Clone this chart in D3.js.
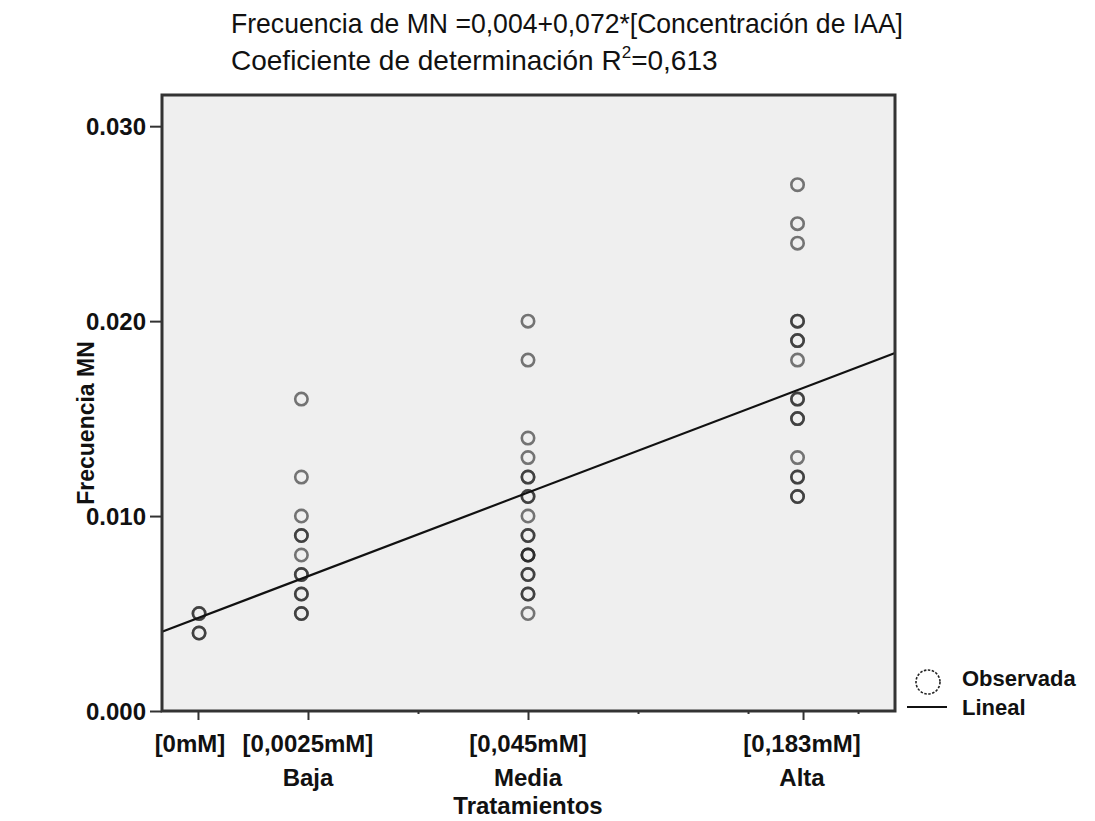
<!DOCTYPE html>
<html>
<head>
<meta charset="utf-8">
<script src="https://cdn.jsdelivr.net/npm/d3@7"></script>
<style>
  body { margin: 0; background: #fff; }
  svg text { font-family: "Liberation Sans", Arial, sans-serif; fill: #111; }
  .axis text { font-weight: bold; font-size: 24px; }
  .axis path { display: none; }
  .axis line { stroke: #333; stroke-width: 2; }
</style>
</head>
<body>
<svg id="chart" width="1095" height="821"></svg>
<script>
// Grupos de tratamiento (posicion en el eje x y etiquetas)
const groupNames = ["[0mM]", "[0,0025mM]", "[0,045mM]", "[0,183mM]"];
const groupLevels = ["", "Baja", "Media", "Alta"];
const groupTicks = [0, 1, 3, 5.5];
const minorTicks = [2, 4, 5, 6];
const groupPointX = [0.01, 0.94, 3.0, 5.45];

// Frecuencia MN observada (valores repetidos = puntos superpuestos)
const obsCero = [0.005, 0.005, 0.004, 0.004];
const obsBaja = [0.016, 0.012, 0.010, 0.009, 0.009, 0.008, 0.007, 0.007,
                 0.006, 0.006, 0.005, 0.005];
const obsMedia = [0.020, 0.018, 0.014, 0.013, 0.012, 0.012, 0.011, 0.011,
                  0.010, 0.009, 0.009, 0.008, 0.008, 0.008, 0.007, 0.007,
                  0.006, 0.006, 0.005];
const obsAlta = [0.027, 0.025, 0.024, 0.020, 0.020, 0.019, 0.019, 0.018,
                 0.016, 0.016, 0.015, 0.015, 0.013, 0.012, 0.012, 0.011, 0.011];

const yTicks = [0, 0.010, 0.020, 0.030];

// Ajuste lineal en unidades del eje x
const lineIntercept = 0.00477;
const lineSlope = 0.002145;

const svg = d3.select("#chart");
const frame = {left: 162, right: 895, top: 95, bottom: 711};

const x = d3.scaleLinear()
  .domain([-0.327, 6.336])
  .range([frame.left, frame.right]);

const y = d3.scaleLinear()
  .domain([0, 0.0316])
  .range([frame.bottom, frame.top]);

// Titulo (ecuacion del modelo)
svg.append("text")
  .attr("x", 231)
  .attr("y", 33)
  .attr("textLength", 672)
  .attr("lengthAdjust", "spacingAndGlyphs")
  .style("font-size", "28px")
  .text("Frecuencia de MN =0,004+0,072*[Concentración de IAA]");

const t2 = svg.append("text")
  .attr("x", 231)
  .attr("y", 70)
  .style("font-size", "28px")
  .text("Coeficiente de determinación R");
t2.append("tspan")
  .attr("dy", -12)
  .style("font-size", "17px")
  .text("2");
t2.append("tspan")
  .attr("dy", 12)
  .text("=0,613");

// Area del grafico
svg.append("rect")
  .attr("x", frame.left)
  .attr("y", frame.top)
  .attr("width", frame.right - frame.left)
  .attr("height", frame.bottom - frame.top)
  .attr("fill", "#efefef");

// Eje y
const yAxis = svg.append("g")
  .attr("class", "axis")
  .attr("transform", `translate(${frame.left},0)`)
  .call(d3.axisLeft(y).tickValues(yTicks).tickFormat(d3.format(".3f")).tickSize(12).tickPadding(4));
yAxis.selectAll("text").attr("dy", "0.36em");

svg.append("text")
  .attr("transform", `translate(94,423) rotate(-90)`)
  .attr("text-anchor", "middle")
  .style("font-size", "23px")
  .style("font-weight", "bold")
  .text("Frecuencia MN");

// Eje x
svg.append("g")
  .attr("class", "axis")
  .attr("transform", `translate(0,${frame.bottom})`)
  .call(d3.axisBottom(x).tickValues(groupTicks).tickFormat("").tickSize(9));

svg.append("g")
  .attr("class", "axis")
  .attr("transform", `translate(0,${frame.bottom})`)
  .call(d3.axisBottom(x).tickValues(minorTicks).tickFormat("").tickSize(3));

// Etiquetas de grupos (la primera algo desplazada para no solaparse)
const labelNudge = [-8, 0, 0, -1];
const labels = svg.append("g").attr("class", "axis");
groupNames.forEach((name, i) => {
  const lx = x(groupTicks[i]) + labelNudge[i];
  labels.append("text")
    .attr("x", lx)
    .attr("y", 752)
    .attr("text-anchor", "middle")
    .text(name);
  labels.append("text")
    .attr("x", lx)
    .attr("y", 786)
    .attr("text-anchor", "middle")
    .text(groupLevels[i]);
});

svg.append("text")
  .attr("x", 528)
  .attr("y", 814)
  .attr("text-anchor", "middle")
  .style("font-size", "24px")
  .style("font-weight", "bold")
  .text("Tratamientos");

// Puntos observados
const groups = [obsCero, obsBaja, obsMedia, obsAlta];
const points = groups.flatMap((vals, i) => vals.map(v => ({x: groupPointX[i], v})));

svg.append("g")
  .selectAll("circle")
  .data(points)
  .enter().append("circle")
  .attr("cx", d => x(d.x))
  .attr("cy", d => y(d.v))
  .attr("r", 6.2)
  .attr("fill", "none")
  .attr("stroke", "#202020")
  .attr("stroke-opacity", 0.6)
  .attr("stroke-width", 2.6);

// Recta de regresion
const xd = x.domain();
svg.append("line")
  .attr("x1", x(xd[0]))
  .attr("y1", y(lineIntercept + lineSlope * xd[0]))
  .attr("x2", x(xd[1]))
  .attr("y2", y(lineIntercept + lineSlope * xd[1]))
  .attr("stroke", "#111")
  .attr("stroke-width", 2.2);

// Marco
svg.append("rect")
  .attr("x", frame.left)
  .attr("y", frame.top)
  .attr("width", frame.right - frame.left)
  .attr("height", frame.bottom - frame.top)
  .attr("fill", "none")
  .attr("stroke", "#333")
  .attr("stroke-width", 3);

// Leyenda
const legend = svg.append("g");
legend.append("circle")
  .attr("cx", 928)
  .attr("cy", 682)
  .attr("r", 12)
  .attr("fill", "none")
  .attr("stroke", "#222")
  .attr("stroke-width", 1.6)
  .attr("stroke-dasharray", "2.5,1.5");
legend.append("line")
  .attr("x1", 907)
  .attr("x2", 947)
  .attr("y1", 707)
  .attr("y2", 707)
  .attr("stroke", "#111")
  .attr("stroke-width", 2);
legend.append("text")
  .attr("x", 962)
  .attr("y", 686)
  .style("font-size", "22px")
  .style("font-weight", "bold")
  .text("Observada");
legend.append("text")
  .attr("x", 962)
  .attr("y", 715)
  .style("font-size", "22px")
  .style("font-weight", "bold")
  .text("Lineal");
</script>
</body>
</html>
